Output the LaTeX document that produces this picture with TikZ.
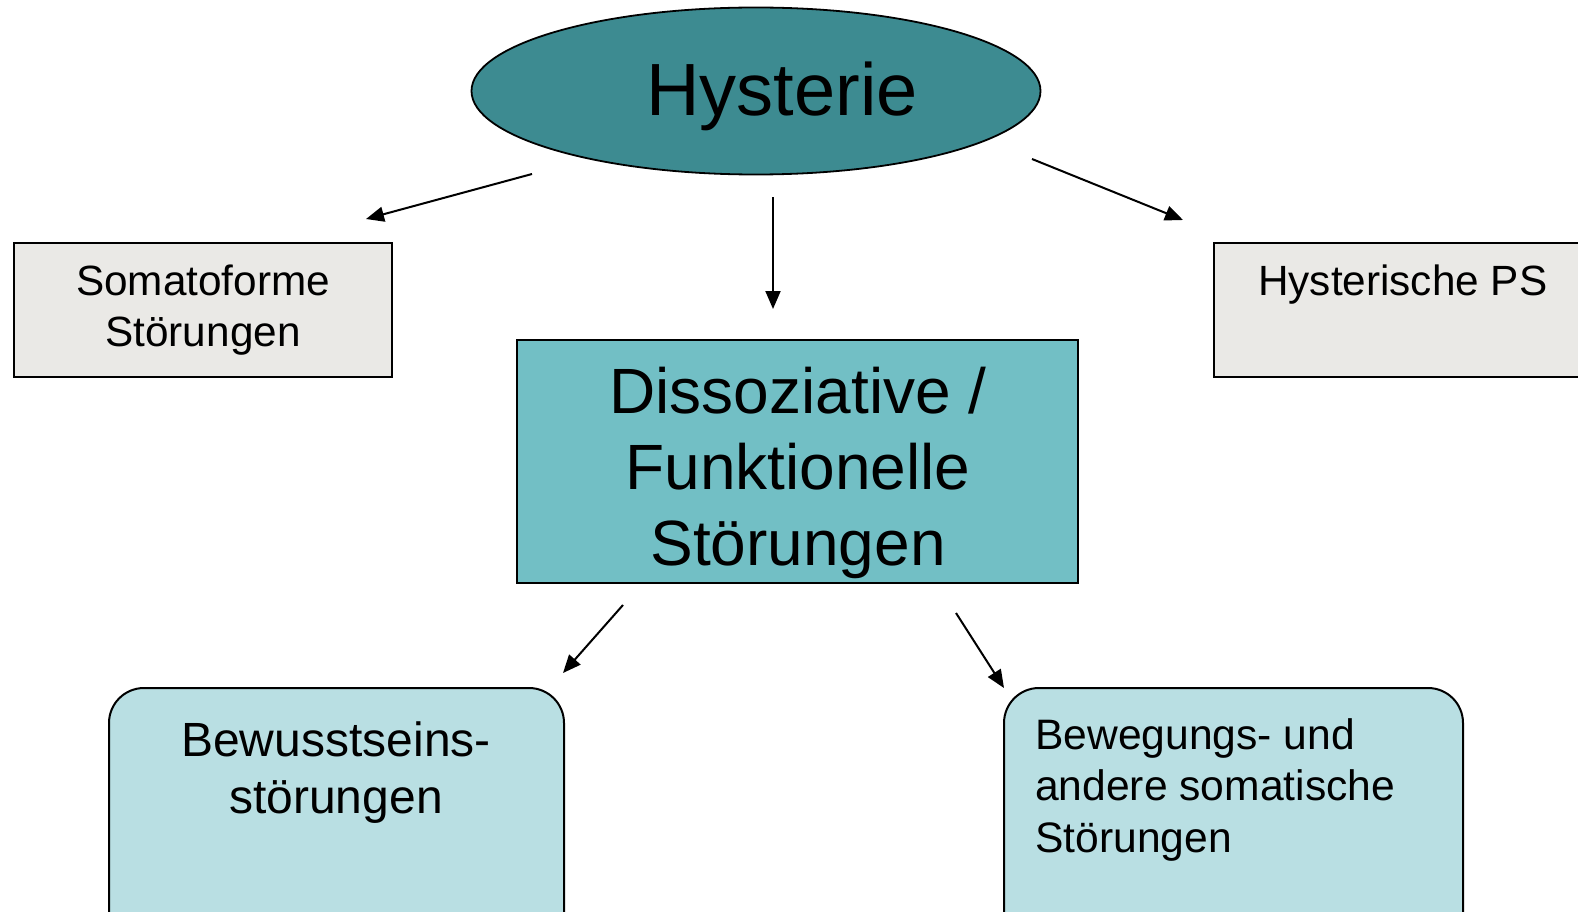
\documentclass[tikz,border=0pt]{standalone}
\usepackage{fontspec}
\setmainfont{Liberation Sans}
\usetikzlibrary{arrows.meta,shapes.geometric}
\definecolor{ellfill}{HTML}{3D8B91}
\definecolor{midfill}{HTML}{72BFC5}
\definecolor{lowfill}{HTML}{B9DFE3}
\definecolor{grayfill}{HTML}{EAE9E6}
\begin{document}
\begin{tikzpicture}[x=1pt,y=-1pt,
  boxbase/.style={draw=black, line width=2pt, inner sep=0pt},
  graybox/.style={boxbase, fill=grayfill},
  lowbox/.style={boxbase, fill=lowfill, rounded corners=35pt},
  arr/.style={-{Triangle[length=18pt,width=15pt]}, line width=2pt},
  txt/.style={inner sep=0pt, align=center}]
\useasboundingbox (0,0) rectangle (1578,912);
\clip (0,0) rectangle (1578,912);
% shapes
\node[ellipse, draw=black, line width=1.8pt, fill=ellfill, minimum width=569pt, minimum height=167pt, inner sep=0pt] (hyst) at (756,91) {};
\node[graybox, minimum width=378pt, minimum height=134pt] (soma) at (203,310) {};
\node[graybox, minimum width=386pt, minimum height=134pt] (hps) at (1407,310) {};
\node[boxbase, fill=midfill, minimum width=561pt, minimum height=243pt] (mid) at (797.5,461.5) {};
\node[lowbox, minimum width=455pt, minimum height=262pt] (bl) at (336.5,819) {};
\node[lowbox, minimum width=459pt, minimum height=262pt] (br) at (1233.5,819) {};
% texts (base anchor = baseline of the last line)
\node[txt, anchor=base, font=\fontsize{74}{80}\selectfont] (hysttxt) at (782,116) {Hysterie};
\node[txt, anchor=base, font=\fontsize{42.3}{51}\selectfont] (somatxt) at (203,346) {Somatoforme\\Störungen};
\node[txt, anchor=base west, font=\fontsize{42.3}{51}\selectfont] (hpstxt) at (1258,295) {Hysterische PS};
\node[txt, anchor=base, font=\fontsize{64}{76}\selectfont] (midtxt) at (798,565) {Dissoziative /\\Funktionelle\\Störungen};
\node[txt, anchor=base, font=\fontsize{48}{57}\selectfont] (bltxt) at (336,813) {Bewusstseins-\\störungen};
\node[txt, anchor=base west, align=left, font=\fontsize{42.6}{51.5}\selectfont] (brtxt) at (1035,852) {Bewegungs- und\\andere somatische\\Störungen};
% arrow end points
\coordinate (a1s) at (532,174);
\coordinate (a1e) at (366,219);
\coordinate (a2s) at (773,197);
\coordinate (a2e) at (773,309);
\coordinate (a3s) at (1032,159);
\coordinate (a3e) at (1183,220);
\coordinate (a4s) at (623,605);
\coordinate (a4e) at (563,673);
\coordinate (a5s) at (956,613);
\coordinate (a5e) at (1004,688);
\draw[arr] (a1s) -- (a1e);
\draw[arr] (a2s) -- (a2e);
\draw[arr] (a3s) -- (a3e);
\draw[arr] (a4s) -- (a4e);
\draw[arr] (a5s) -- (a5e);
\end{tikzpicture}
\end{document}
